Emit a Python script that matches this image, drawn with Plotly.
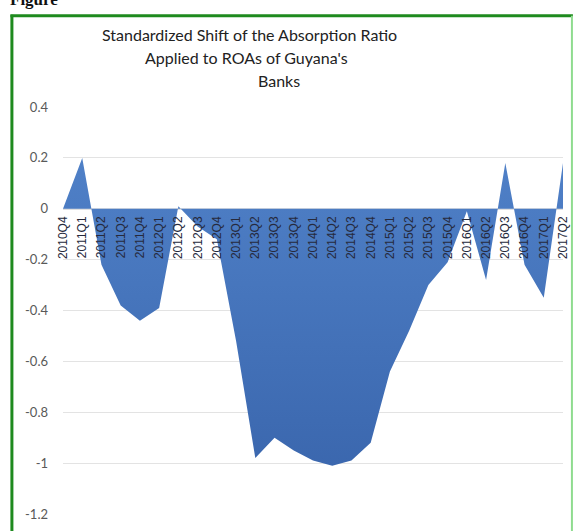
import plotly.graph_objects as go

categories = ["2010Q4", "2011Q1", "2011Q2", "2011Q3", "2011Q4", "2012Q1", "2012Q2",
              "2012Q3", "2012Q4", "2013Q1", "2013Q2", "2013Q3", "2013Q4", "2014Q1",
              "2014Q2", "2014Q3", "2014Q4", "2015Q1", "2015Q2", "2015Q3", "2015Q4",
              "2016Q1", "2016Q2", "2016Q3", "2016Q4", "2017Q1", "2017Q2"]
values = [0.0, 0.2, -0.22, -0.38, -0.44, -0.39, 0.01,
          -0.07, -0.12, -0.52, -0.98, -0.90, -0.95, -0.99,
          -1.01, -0.99, -0.92, -0.64, -0.48, -0.30, -0.21,
          -0.01, -0.28, 0.18, -0.22, -0.35, 0.18]
ytick_vals = [0.4, 0.2, 0, -0.2, -0.4, -0.6, -0.8, -1, -1.2]
ytick_text = ["0.4", "0.2", "0", "-0.2", "-0.4", "-0.6", "-0.8", "-1", "-1.2"]
title_lines = ["Standardized Shift of the Absorption Ratio", "Applied to ROAs of Guyana's", "Banks"]

W, H = 579, 531
L, R, T, B = 63, 567, 107, 522

def px(x):
    return (x - L) / (R - L)

def py(y):
    return (B - y) / (B - T)

fig = go.Figure()
fig.add_trace(go.Scatter(
    x=categories, y=values, mode="lines", fill="tozeroy",
    line=dict(width=0, color="#4677BE"),
    fillgradient=dict(type="vertical", start=-1.05, stop=0.2,
                      colorscale=[[0, "#3A66AD"], [1, "#4F80C7"]]),
    hoverinfo="x+y", showlegend=False,
))

fig.update_layout(
    width=W, height=H,
    margin=dict(l=L, r=W - R, t=T, b=H - B),
    paper_bgcolor="white", plot_bgcolor="white",
    showlegend=False,
    xaxis=dict(
        type="category", range=[0, len(categories) - 1],
        anchor="free", position=py(212),
        tickangle=-90, showgrid=False, zeroline=False,
        showline=False, layer="above traces",
        ticks="", ticklabelstandoff=3,
        tickfont=dict(family="Liberation Sans", size=12, color="#262a3d"),
    ),
    yaxis=dict(
        range=[-1.2, 0.4], tickvals=ytick_vals, ticktext=ytick_text,
        showgrid=True, gridcolor="#e3e3e3", gridwidth=1,
        zeroline=False, showline=False, ticks="",
        ticklabelstandoff=14,
        tickfont=dict(family="Lato", size=13, color="#595959"),
    ),
)

# Horizontal category axis line at zero (drawn beneath the area)
fig.add_shape(type="line", xref="paper", yref="y", x0=0, x1=1, y0=0, y1=0,
              layer="below", line=dict(color="#7f7f7f", width=1))

# Title lines
title_pos = [(251, 33), (248, 57), (281, 80)]
for text, (cx, cy) in zip(title_lines, title_pos):
    fig.add_annotation(text=text, xref="paper", yref="paper", x=px(cx), y=py(cy),
                       xanchor="center", yanchor="middle", showarrow=False,
                       font=dict(family="Lato", size=16, color="#222222"))

# Partially cropped caption at top
fig.add_annotation(text="<b>Figure</b>", xref="paper", yref="paper", x=px(8), y=py(-3),
                   xanchor="left", yanchor="middle", showarrow=False,
                   font=dict(family="Liberation Serif", size=17, color="#111111"))

# Green chart border
fig.add_shape(type="line", xref="paper", yref="paper", x0=px(11.5), x1=px(11.5),
              y0=py(13), y1=py(540), line=dict(color="#1E8A1E", width=3))
fig.add_shape(type="line", xref="paper", yref="paper", x0=px(10), x1=px(577),
              y0=py(14), y1=py(14), line=dict(color="#1E8A1E", width=3))
fig.add_shape(type="line", xref="paper", yref="paper", x0=px(576), x1=px(576),
              y0=py(14), y1=py(540), line=dict(color="#8FDC8F", width=2))

fig.write_html("out.html")
